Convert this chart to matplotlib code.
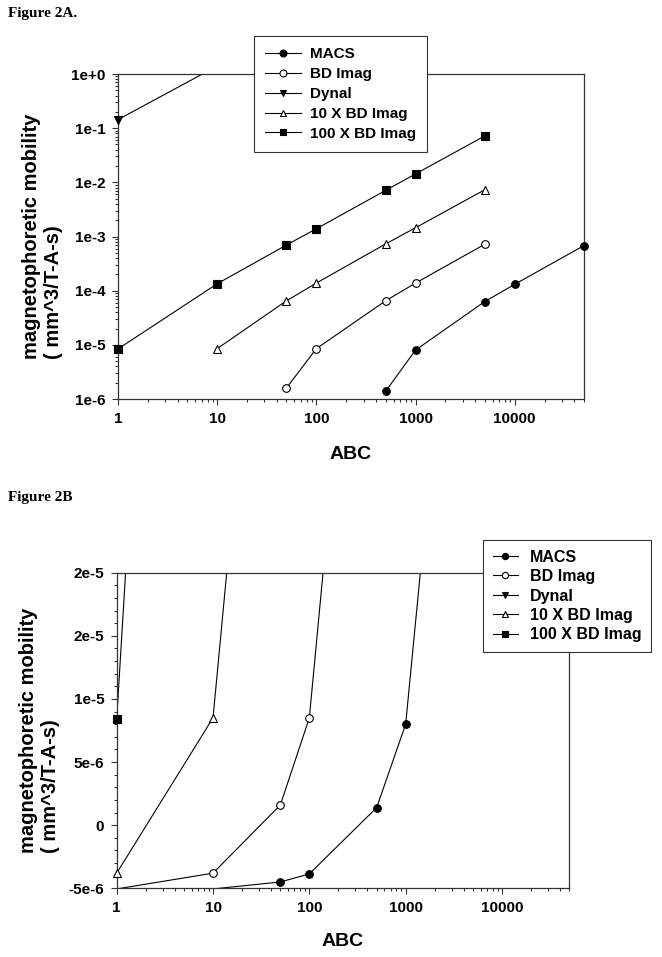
import numpy as np
import matplotlib.pyplot as plt
from matplotlib.lines import Line2D
from matplotlib.ticker import FixedLocator, LogLocator, MultipleLocator, NullFormatter

plt.rcParams['font.family'] = ['Liberation Sans', 'DejaVu Sans']

# --- DATA ---
abc_macs = [10, 50, 100, 500, 1000, 5000, 10000, 50000]
mob_macs = [-5.05e-6, -4.5e-6, -3.86e-6, 1.39e-6, 8.0e-6, 6.3e-5, 1.31e-4, 6.8e-4]

abc_bd = [1, 10, 50, 100, 500, 1000, 5000]
mob_bd = [-5.05e-6, -3.8e-6, 1.6e-6, 8.5e-6, 6.5e-5, 1.38e-4, 7.2e-4]

abc_dynal = [1, 10]
mob_dynal = [0.144, 1.4]

abc_bd10 = [1, 10, 50, 100, 500, 1000, 5000]
mob_bd10 = [-3.8e-6, 8.5e-6, 6.5e-5, 1.38e-4, 7.3e-4, 1.45e-3, 7.3e-3]

abc_bd100 = [1, 10, 50, 100, 500, 1000, 5000]
mob_bd100 = [8.4e-6, 1.34e-4, 6.97e-4, 1.39e-3, 7.1e-3, 1.43e-2, 7.2e-2]

labels = ['MACS', 'BD Imag', 'Dynal', '10 X BD Imag', '100 X BD Imag']
markers = ['o', 'o', 'v', '^', 's']
faces = ['black', 'white', 'black', 'white', 'black']

x_ticks = [1, 10, 100, 1000, 10000]
x_ticklabels = ['1', '10', '100', '1000', '10000']
top_yticks = [1e-6, 1e-5, 1e-4, 1e-3, 1e-2, 1e-1, 1e0]
top_yticklabels = ['1e-6', '1e-5', '1e-4', '1e-3', '1e-2', '1e-1', '1e+0']
bot_yticks = [-5e-6, 0, 5e-6, 1e-5, 1.5e-5, 2e-5]
bot_yticklabels = ['-5e-6', '0', '5e-6', '1e-5', '2e-5', '2e-5']

series = [(abc_macs, mob_macs), (abc_bd, mob_bd), (abc_dynal, mob_dynal),
          (abc_bd10, mob_bd10), (abc_bd100, mob_bd100)]

W, H = 662, 957
fig = plt.figure(figsize=(W / 100, H / 100), dpi=100)


def px_axes(left, top, right, bottom):
    return fig.add_axes([left / W, 1 - bottom / H, (right - left) / W, (bottom - top) / H])


def draw_series(ax, x, y, marker, face, lo, hi):
    x = np.array(x)
    y = np.array(y)
    ax.plot(x, y, color='black', lw=0.8, zorder=2)
    keep = (y >= lo) & (y <= hi)
    ax.plot(x[keep], y[keep], ls='none', marker=marker, ms=5.5, mfc=face,
            mec='black', mew=0.8, clip_on=False, zorder=3)


def style_axes(ax):
    for s in ax.spines.values():
        s.set_color('#333333')
        s.set_linewidth(0.9)
    ax.tick_params(which='both', direction='out', color='#333333', width=0.8)
    ax.tick_params(which='major', length=4, pad=5)
    ax.tick_params(which='minor', length=2.2)
    for lab in ax.get_xticklabels() + ax.get_yticklabels():
        lab.set_fontweight('bold')
        lab.set_fontsize(11)


def handles(ms):
    return [Line2D([], [], color='black', lw=0.8, marker=m, ms=ms, mfc=f,
                   mec='black', mew=0.8) for m, f in zip(markers, faces)]


ylabel = 'magnetophoretic mobility\n( mm^3/T-A-s)'

# --- FIGURE 2A: log-log ---
ax1 = px_axes(118, 74, 584, 399)
ax1.set_xscale('log')
ax1.set_yscale('log', nonpositive='mask')
ax1.set_xlim(1, 50000)
ax1.set_ylim(1e-6, 1e0)
for (x, y), m, f in zip(series, markers, faces):
    draw_series(ax1, x, y, m, f, 1e-6, 1e0)
ax1.xaxis.set_major_locator(FixedLocator(x_ticks))
ax1.set_xticklabels(x_ticklabels)
ax1.xaxis.set_minor_locator(LogLocator(base=10, subs=np.arange(2, 10)))
ax1.xaxis.set_minor_formatter(NullFormatter())
ax1.yaxis.set_major_locator(FixedLocator(top_yticks))
ax1.set_yticklabels(top_yticklabels)
ax1.yaxis.set_minor_locator(LogLocator(base=10, subs=np.arange(2, 10)))
ax1.yaxis.set_minor_formatter(NullFormatter())
style_axes(ax1)
ax1.set_xlabel('ABC', fontsize=14, fontweight='bold', labelpad=15)
ax1.set_ylabel(ylabel, fontsize=14.5, fontweight='bold', multialignment='left')
ax1.yaxis.set_label_coords(-0.118, 0.5)
leg1 = ax1.legend(handles(5), labels, loc='upper left',
                  bbox_to_anchor=(254 / W, 1 - 36 / H), bbox_transform=fig.transFigure,
                  borderaxespad=0, frameon=True, fancybox=False, framealpha=1,
                  edgecolor='#333333', prop={'weight': 'bold', 'size': 11},
                  handlelength=2.3, handletextpad=0.6, borderpad=0.75, labelspacing=0.38)
leg1.get_frame().set_linewidth(0.8)

fig.text(8 / W, 1 - 14 / H, 'Figure 2A.', family='Liberation Serif',
         fontweight='bold', fontsize=11, va='center')

# --- FIGURE 2B: linear y ---
ax2 = px_axes(116.7, 572.7, 569.3, 888.3)
ax2.set_xscale('log')
ax2.set_xlim(1, 50000)
ax2.set_ylim(-5e-6, 2e-5)
for (x, y), m, f in zip(series, markers, faces):
    draw_series(ax2, x, y, m, f, -5e-6, 2e-5)
ax2.xaxis.set_major_locator(FixedLocator(x_ticks))
ax2.set_xticklabels(x_ticklabels)
ax2.xaxis.set_minor_locator(LogLocator(base=10, subs=np.arange(2, 10)))
ax2.xaxis.set_minor_formatter(NullFormatter())
ax2.yaxis.set_major_locator(FixedLocator(bot_yticks))
ax2.set_yticklabels(bot_yticklabels)
ax2.yaxis.set_minor_locator(MultipleLocator(1e-6))
style_axes(ax2)
ax2.set_xlabel('ABC', fontsize=14, fontweight='bold', labelpad=13)
ax2.set_ylabel(ylabel, fontsize=14.5, fontweight='bold', multialignment='left')
ax2.yaxis.set_label_coords(-0.125, 0.5)
leg2 = ax2.legend(handles(4.5), labels, loc='upper left',
                  bbox_to_anchor=(483 / W, 1 - 540 / H), bbox_transform=fig.transFigure,
                  borderaxespad=0, frameon=True, fancybox=False, framealpha=1,
                  edgecolor='#333333', prop={'weight': 'bold', 'size': 11.5},
                  handlelength=1.6, handletextpad=0.75, borderpad=0.6, labelspacing=0.28)
leg2.get_frame().set_linewidth(0.8)

fig.text(8 / W, 1 - 497 / H, 'Figure 2B', family='Liberation Serif',
         fontweight='bold', fontsize=11, va='center')

fig.savefig('out.png', dpi=100)
